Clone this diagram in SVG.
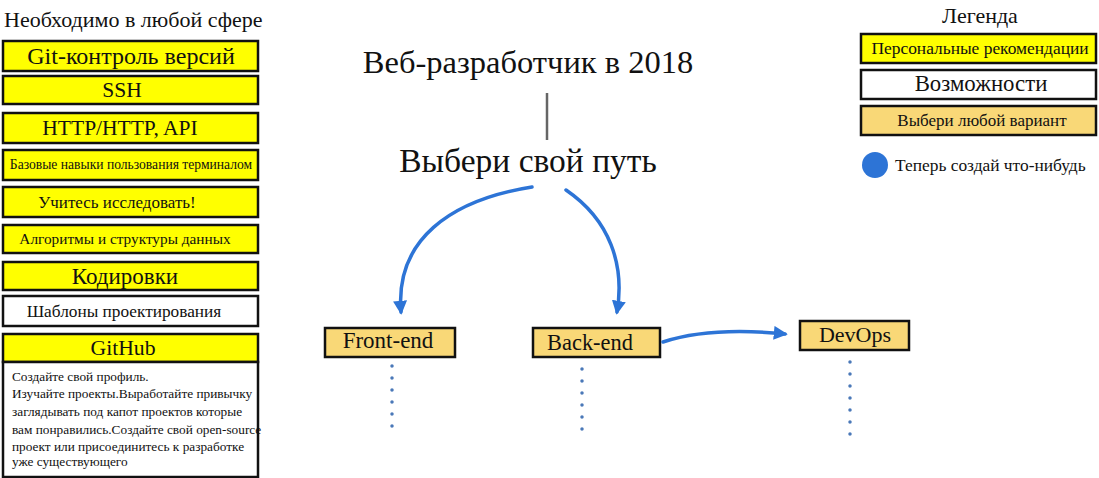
<svg xmlns="http://www.w3.org/2000/svg" width="1099" height="478" viewBox="0 0 1099 478">
<defs>
<style>
text{font-family:"Liberation Serif","DejaVu Serif",serif;fill:#111}
.box rect{stroke:#111;stroke-width:2.5}
.y{fill:#ffff00}
.w{fill:#ffffff}
.o{fill:#f9d877}
.c{text-anchor:middle}
.conn path{fill:none;stroke:#2d74d6;stroke-width:3.5;stroke-linecap:round}
.dots line{stroke:#4a78b8;stroke-width:3.5;stroke-linecap:round;stroke-dasharray:0 12}
</style>
<marker id="ah" viewBox="0 0 10 10" refX="8" refY="5" markerWidth="4" markerHeight="4" orient="auto">
<path d="M0,0 L10,5 L0,10 z" fill="#2d74d6"/>
</marker>
</defs>
<rect width="1099" height="478" fill="#fff"/>

<text x="4" y="27" font-size="22">Необходимо в любой сфере</text>
<g id="n-git" class="box"><rect class="y" x="3" y="41" width="255" height="30"/><text class="c" x="131" y="64" font-size="24">Git-контроль версий</text></g>
<g id="n-ssh" class="box"><rect class="y" x="3" y="76" width="255" height="28"/><text class="c" x="122" y="97" font-size="21.5">SSH</text></g>
<g id="n-http" class="box"><rect class="y" x="3" y="113" width="255" height="30"/><text class="c" x="120" y="135" font-size="21.5">HTTP/HTTP, API</text></g>
<g id="n-term" class="box"><rect class="y" x="3" y="150" width="255" height="30"/><text class="c" x="131" y="169" font-size="13.6">Базовые навыки пользования терминалом</text></g>
<g id="n-learn" class="box"><rect class="y" x="3" y="187" width="255" height="30"/><text class="c" x="117" y="208" font-size="17">Учитесь исследовать!</text></g>
<g id="n-algo" class="box"><rect class="y" x="3" y="225" width="255" height="28"/><text class="c" x="125" y="244" font-size="15.3">Алгоритмы и структуры данных</text></g>
<g id="n-enc" class="box"><rect class="y" x="3" y="262" width="255" height="28"/><text class="c" x="125" y="284" font-size="23">Кодировки</text></g>
<g id="n-pat" class="box"><rect class="w" x="3" y="296" width="255" height="30"/><text class="c" x="124" y="317" font-size="17.3">Шаблоны проектирования</text></g>
<g id="n-github" class="box"><rect class="y" x="3" y="334" width="255" height="28"/><text class="c" x="123" y="355" font-size="21.7">GitHub</text>
<rect class="w" x="3" y="362" width="255" height="115"/>
<text x="12" y="381" font-size="13.3">Создайте свой профиль.</text>
<text x="12" y="398" font-size="13.3">Изучайте проекты.Выработайте привычку</text>
<text x="12" y="416" font-size="13.3">заглядывать под капот проектов которые</text>
<text x="12" y="434" font-size="13.3">вам понравились.Создайте свой open-source</text>
<text x="12" y="451" font-size="13.3">проект или присоединитесь к разработке</text>
<text x="12" y="466" font-size="13.3">уже существующего</text>
</g>

<g id="n-title"><text class="c" x="528" y="73" font-size="32.5">Веб-разработчик в 2018</text></g>
<g id="n-path"><text class="c" x="528" y="172" font-size="33.5">Выбери свой путь</text></g>

<g id="legend">
<text class="c" x="980" y="23" font-size="22">Легенда</text>
<g id="l-pers" class="box"><rect class="y" x="861" y="34" width="235" height="29"/><text class="c" x="980" y="54" font-size="17.4">Персональные рекомендации</text></g>
<g id="l-opp" class="box"><rect class="w" x="861" y="70" width="235" height="29"/><text class="c" x="981" y="91" font-size="22.8">Возможности</text></g>
<g id="l-any" class="box"><rect class="o" x="861" y="106" width="235" height="29"/><text class="c" x="982" y="126" font-size="17">Выбери любой вариант</text></g>
<circle cx="875" cy="165" r="13" fill="#2d74d6"/>
<text x="895" y="171" font-size="17.4">Теперь создай что-нибудь</text>
</g>

<g id="n-front" class="box"><rect class="o" x="325" y="328" width="130" height="29"/><text class="c" x="388" y="348" font-size="23">Front-end</text></g>
<g id="n-back" class="box"><rect class="o" x="533" y="328" width="127" height="29"/><text class="c" x="590" y="350" font-size="22.4">Back-end</text></g>
<g id="n-devops" class="box"><rect class="o" x="800" y="321" width="109" height="29"/><text class="c" x="855" y="342" font-size="22">DevOps</text></g>

<g id="connectors">
<line x1="547" y1="93" x2="547" y2="140" stroke="#666" stroke-width="2.5"/>
<g class="conn">
<path d="M532,187 C450,200 395,240 401,312" marker-end="url(#ah)"/>
<path d="M566,190 C610,220 625,265 617,312" marker-end="url(#ah)"/>
<path d="M663,342 C700,330 745,330 785,334" marker-end="url(#ah)"/>
</g>
<g class="dots">
<line x1="392" y1="366" x2="392" y2="428"/>
<line x1="582" y1="369" x2="582" y2="431"/>
<line x1="850" y1="362" x2="850" y2="436"/>
</g>
</g>
</svg>
